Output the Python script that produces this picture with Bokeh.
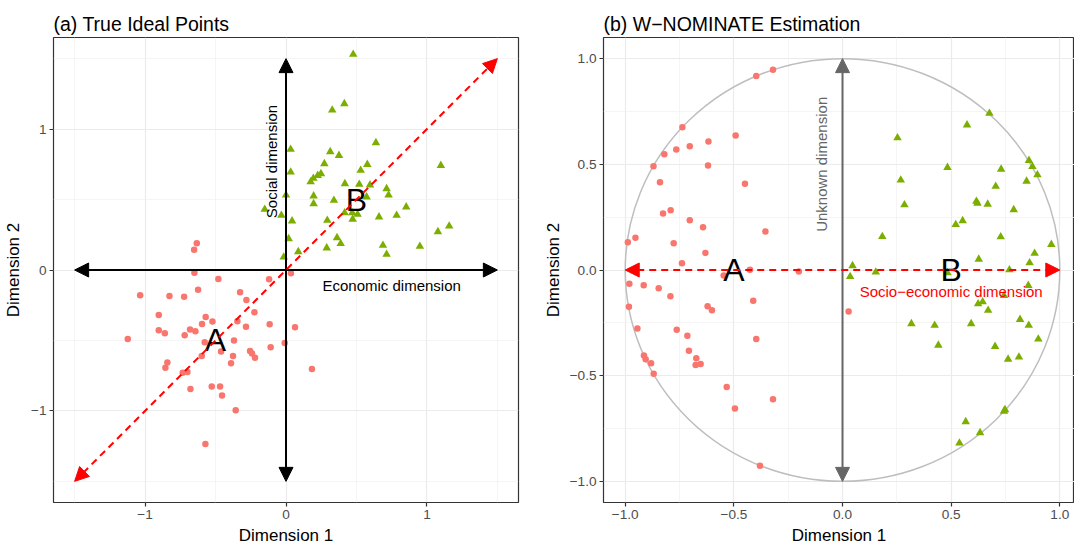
import math
from bokeh.plotting import figure
from bokeh.layouts import row
from bokeh.models import Range1d, FixedTicker, Arrow, NormalHead, CustomJSTickFormatter
from bokeh.core.properties import value
from bokeh.embed import file_html
from bokeh.resources import INLINE

FONT = "Liberation Sans"
COL_A = "#F8766D"
COL_B = "#7CAE00"

# ---------------- data: (a) true ideal points ----------------
true_a_x = [-0.633, -0.652, -0.65, -0.48, -0.12, 0.035, -1.035, -0.827, -0.723, -0.624,
            -0.326, -0.281, -0.224, -0.903, -0.57, -0.522, -0.596, -0.345, -0.284, -0.116,
            0.064, -0.903, -0.86, -0.681, -0.643, -0.719, -1.123, -0.577, -0.369, -0.009,
            -0.109, -0.461, -0.255, -0.241, -0.22, -0.598, -0.376, -0.39, -0.842, -0.856,
            -0.733, -0.7, 0.184, -0.527, -0.468, -0.678, -0.454, -0.357, -0.572]
true_a_y = [0.189, 0.144, -0.019, -0.064, -0.066, -0.023, -0.18, -0.184, -0.189, -0.14,
            -0.158, -0.213, -0.3, -0.319, -0.333, -0.366, -0.383, -0.364, -0.402, -0.385,
            -0.407, -0.428, -0.449, -0.423, -0.435, -0.463, -0.489, -0.513, -0.501, -0.518,
            -0.548, -0.579, -0.574, -0.593, -0.622, -0.61, -0.61, -0.662, -0.657, -0.693,
            -0.73, -0.723, -0.702, -0.827, -0.827, -0.844, -0.891, -0.995, -1.234]
true_b_x = [0.477, 0.328, 0.414, 0.638, 0.033, 0.314, 0.376, 1.099, 0.033, 0.272,
            0.577, 0.53, 0.248, 0.225, 0.194, 0.175, 0.418, 0.52, 0.596, 0.714,
            0.728, 0.0, 0.196, 0.572, 0.196, 0.34, 0.853, -0.151, -0.033, 0.416,
            0.47, 0.508, 0.473, 0.66, 0.785, 0.043, 0.293, 1.158, 1.078, 0.019,
            0.362, 0.388, 0.688, 0.95, 0.289, 0.714, 0.087, -0.016]
true_b_y = [1.53, 1.135, 1.18, 0.903, 0.856, 0.839, 0.813, 0.742, 0.695, 0.754,
            0.749, 0.707, 0.683, 0.671, 0.65, 0.626, 0.612, 0.608, 0.603, 0.577,
            0.532, 0.532, 0.525, 0.518, 0.47, 0.494, 0.447, 0.43, 0.388, 0.406,
            0.406, 0.395, 0.36, 0.376, 0.388, 0.348, 0.352, 0.312, 0.272, 0.222,
            0.229, 0.187, 0.175, 0.168, 0.156, 0.111, 0.13, 0.092]

# ---------------- data: (b) W-NOMINATE estimation ----------------
nom_a_x = [-0.397, -0.32, -0.737, -0.492, -0.82, -0.765, -0.703, -0.617, -0.87, -0.619,
           -0.84, -0.449, -0.826, -0.791, -0.703, -0.642, -0.355, -0.988, -0.953, -0.777,
           -0.631, -0.739, -0.426, -0.201, -0.547, -0.981, -0.915, -0.846, -0.792, -0.983,
           -0.621, -0.601, -0.411, 0.028, -0.944, -0.763, -0.714, -0.397, -0.707, -0.914,
           -0.906, -0.673, -0.881, -0.676, -0.653, -0.869, -0.533, -0.32, -0.495, -0.38]
nom_a_y = [0.918, 0.947, 0.675, 0.636, 0.548, 0.57, 0.585, 0.608, 0.491, 0.494,
           0.415, 0.408, 0.267, 0.283, 0.235, 0.202, 0.182, 0.131, 0.152, 0.127,
           0.081, 0.032, 0.001, -0.007, -0.026, -0.065, -0.072, -0.086, -0.124, -0.174,
           -0.171, -0.191, -0.146, -0.196, -0.277, -0.283, -0.311, -0.327, -0.382, -0.404,
           -0.422, -0.418, -0.441, -0.45, -0.445, -0.491, -0.554, -0.611, -0.655, -0.926]
nom_b_x = [0.676, 0.573, 0.253, 0.858, 0.874, 0.897, 0.483, 0.73, 0.268, 0.847,
           0.705, 0.616, 0.621, 0.285, 0.668, 0.788, 0.521, 0.553, 0.183, 0.728,
           0.961, 0.884, 0.627, 0.861, 0.046, 0.768, 0.035, 0.153, 0.483, 0.855,
           0.743, 0.624, 0.645, 0.67, 0.317, 0.424, 0.592, 0.817, 0.857, 0.901,
           0.441, 0.702, 0.762, 0.812, 0.743, 0.748, 0.567, 0.633, 0.538]
nom_b_y = [0.741, 0.686, 0.625, 0.518, 0.489, 0.45, 0.485, 0.477, 0.425, 0.42,
           0.396, 0.325, 0.316, 0.308, 0.311, 0.285, 0.215, 0.233, 0.158, 0.157,
           0.121, 0.079, 0.051, 0.034, 0.02, 0.001, -0.031, -0.01, -0.013, -0.073,
           -0.121, -0.16, -0.151, -0.191, -0.254, -0.262, -0.254, -0.234, -0.262, -0.327,
           -0.356, -0.362, -0.422, -0.412, -0.668, -0.661, -0.718, -0.77, -0.819]

# ticks
left_ticks = [-1, 0, 1]
left_minor = [-1.5, -0.5, 0.5, 1.5]
right_ticks = [-1.0, -0.5, 0.0, 0.5, 1.0]
right_minor = [-0.75, -0.25, 0.25, 0.75]

# arrows (start x, start y, end x, end y)
true_econ_arrow = [-1.5, 0.0, 1.5, 0.0]
true_social_arrow = [0.0, -1.5, 0.0, 1.5]
true_diag_arrow = [-1.5, -1.5, 1.5, 1.5]
nom_unknown_arrow = [0.0, -1.0, 0.0, 1.0]
nom_socio_arrow = [-1.0, 0.0, 1.0, 0.0]
unit_circle_diameter = 2.0

# labels
true_group_x = [-0.5, 0.5]
true_group_y = [-0.5, 0.5]
nom_group_x = [-0.5, 0.5]
nom_group_y = [0.0, 0.0]
group_names = ["A", "B"]


def make_fig(title, xr, yr, fw, fh, mbl, mbr, dec, ticks, minor):
    p = figure(frame_width=fw, frame_height=fh, x_range=Range1d(*xr), y_range=Range1d(*yr),
               output_backend="svg", toolbar_location=None,
               min_border_left=mbl, min_border_right=mbr, min_border_top=37, min_border_bottom=43)
    p.title.text = title
    p.title.text_font = FONT
    p.title.text_font_size = "19.5px"
    p.title.text_font_style = "normal"
    p.title.text_color = "black"
    p.title.align = "left"
    p.title.standoff = 5
    p.background_fill_color = "white"
    p.border_fill_color = "white"
    p.outline_line_color = "#333333"
    p.outline_line_width = 1.2
    fmt = CustomJSTickFormatter(code="return tick.toFixed(%d).replace('-', '\\u2212');" % dec)
    for ax in (p.xaxis, p.yaxis):
        ax.ticker = FixedTicker(ticks=ticks, minor_ticks=minor)
        ax.formatter = fmt
        ax.axis_line_color = None
        ax.major_tick_out = 4
        ax.major_tick_in = 0
        ax.minor_tick_out = 0
        ax.minor_tick_in = 0
        ax.major_tick_line_color = "#333333"
        ax.major_tick_line_width = 1.2
        ax.major_label_text_font = FONT
        ax.major_label_text_font_size = "13.6px"
        ax.major_label_text_color = "#4D4D4D"
        ax.major_label_standoff = 3
        ax.axis_label_text_font = FONT
        ax.axis_label_text_font_size = "17px"
        ax.axis_label_text_font_style = "normal"
        ax.axis_label_text_color = "black"
    p.xaxis.axis_label = "Dimension 1"
    p.yaxis.axis_label = "Dimension 2"
    p.xaxis.axis_label_standoff = 4
    for g in (p.xgrid, p.ygrid):
        g.grid_line_color = "#EBEBEB"
        g.grid_line_width = 1.2
        g.minor_grid_line_color = "#F0F0F0"
        g.minor_grid_line_width = 0.7
    return p


def add_arrow(p, coords, color, width, dash="solid"):
    xs, ys, xe, ye = coords
    head = dict(size=14, fill_color=color, line_color=color, line_width=1)
    p.add_layout(Arrow(x_start=xs, y_start=ys, x_end=xe, y_end=ye,
                       start=NormalHead(**head), end=NormalHead(**head),
                       line_color=color, line_width=width, line_dash=dash))


# ---------------- panel (a) ----------------
p1 = make_fig("(a) True Ideal Points", (-1.65, 1.65), (-1.65, 1.65), 465, 465, 53, 12, 0,
              left_ticks, left_minor)
p1.yaxis.axis_label_standoff = 5
p1.scatter(true_a_x, true_a_y, marker="circle", size=6.5, fill_color=COL_A, line_color=None)
p1.scatter(true_b_x, true_b_y, marker="triangle", size=8.5, fill_color=COL_B, line_color=None)
add_arrow(p1, true_econ_arrow, "black", 2)
add_arrow(p1, true_social_arrow, "black", 2)
add_arrow(p1, true_diag_arrow, "#FF0000", 2, "7 5")
p1.text(x=[0.75], y=[-0.107], text=["Economic dimension"], text_font=value(FONT),
        text_font_size="15px", text_align="center", text_baseline="middle", text_color="black")
p1.text(x=[-0.1], y=[0.77], text=["Social dimension"], text_font=value(FONT), angle=math.pi / 2,
        text_font_size="15px", text_align="center", text_baseline="middle", text_color="black")
p1.text(x=true_group_x, y=true_group_y, text=group_names, text_font=value(FONT),
        text_font_size="32px", text_align="center", text_baseline="middle", text_color="black")

# ---------------- panel (b) ----------------
p2 = make_fig("(b) W\u2212NOMINATE Estimation", (-1.1, 1.0676), (-1.1, 1.1), 471, 465, 73, 0, 1,
              right_ticks, right_minor)
p2.yaxis.axis_label_standoff = 4
p2.ellipse(x=[0.0], y=[0.0], width=[unit_circle_diameter], height=[unit_circle_diameter],
           fill_color=None, line_color="#BEBEBE", line_width=1.5)
p2.scatter(nom_a_x, nom_a_y, marker="circle", size=6.5, fill_color=COL_A, line_color=None)
p2.scatter(nom_b_x, nom_b_y, marker="triangle", size=8.5, fill_color=COL_B, line_color=None)
add_arrow(p2, nom_unknown_arrow, "#666666", 2)
add_arrow(p2, nom_socio_arrow, "#FF0000", 2, "7 5")
p2.text(x=[-0.097], y=[0.5], text=["Unknown dimension"], text_font=value(FONT), angle=math.pi / 2,
        text_font_size="15px", text_align="center", text_baseline="middle", text_color="#666666")
p2.text(x=[0.5], y=[-0.102], text=["Socio\u2212economic dimension"], text_font=value(FONT),
        text_font_size="15px", text_align="center", text_baseline="middle", text_color="#FF0000")
p2.text(x=nom_group_x, y=nom_group_y, text=group_names, text_font=value(FONT),
        text_font_size="32px", text_align="center", text_baseline="middle", text_color="black")

layout = row(p1, p2)
open("out.html", "w").write(file_html(layout, INLINE))
